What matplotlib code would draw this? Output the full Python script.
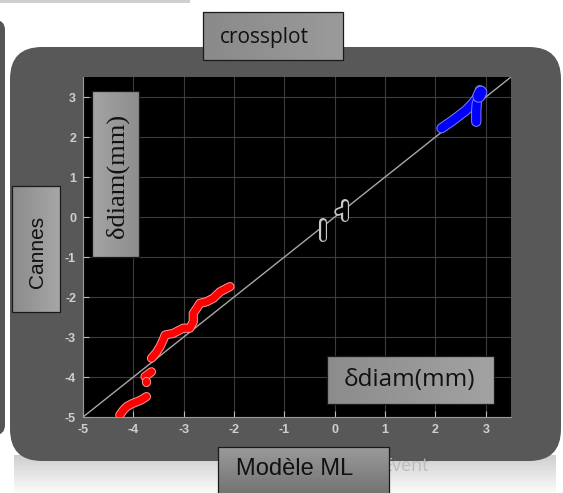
import numpy as np
import matplotlib
matplotlib.use("Agg")
import matplotlib.pyplot as plt
from matplotlib.patches import FancyBboxPatch, Rectangle
import matplotlib.patheffects as pe

# ---- data ----
xticks = [-5, -4, -3, -2, -1, 0, 1, 2, 3]
yticks = [-5, -4, -3, -2, -1, 0, 1, 2, 3]
red1_x = [-4.27, -4.20, -4.13, -4.03, -3.93, -3.84, -3.74]
red1_y = [-4.95, -4.83, -4.74, -4.67, -4.62, -4.57, -4.49]
red2_x = [-3.77, -3.64]
red2_y = [-3.99, -3.87]
red3_x = [-3.75, -3.75]
red3_y = [-4.12, -4.11]
red4_x = [-3.64, -3.55, -3.47, -3.40, -3.37, -3.21, -3.01, -2.88, -2.81, -2.81, -2.74, -2.68, -2.55, -2.41, -2.28, -2.08]
red4_y = [-3.53, -3.40, -3.24, -3.05, -2.95, -2.91, -2.78, -2.78, -2.62, -2.41, -2.28, -2.16, -2.12, -2.03, -1.87, -1.74]
blue1_x = [2.12, 2.35, 2.61, 2.74, 2.84, 2.88, 2.88]
blue1_y = [2.22, 2.42, 2.67, 2.84, 3.01, 3.10, 3.17]
blue2_x = [2.82, 2.81, 2.81]
blue2_y = [2.84, 2.67, 2.38]
blue3_x = [2.86, 2.90]
blue3_y = [3.02, 3.12]
gray1_x = [-0.23, -0.23]
gray1_y = [-0.12, -0.53]
gray2_x = [0.20, 0.20]
gray2_y = [0.34, -0.03]
gray3_x = [0.07, 0.17]
gray3_y = [0.13, 0.18]

W, H = 563, 493
fig = plt.figure(figsize=(W / 100, H / 100), dpi=100)
fig.patch.set_facecolor("white")

# background layer in pixel coordinates
bg = fig.add_axes([0, 0, 1, 1], zorder=0)
bg.set_xlim(0, W)
bg.set_ylim(H, 0)
bg.axis("off")

# reflection below the panel
grad = np.linspace(0, 1, 50).reshape(-1, 1)
bg.imshow(grad, extent=[14, 556, 493, 455], cmap=matplotlib.colors.LinearSegmentedColormap.from_list(
    "r", ["#cfcfcf", "#fbfbfb"]), aspect="auto", zorder=0, interpolation="bilinear")
# left neighbour panel strip
bg.add_patch(FancyBboxPatch((-40, 20), 45, 415, boxstyle="round,pad=0,rounding_size=10",
                            fc="#555555", ec="none", zorder=1))
bg.add_patch(Rectangle((0, 0), 190, 3, fc="#cfcfcf", ec="none", zorder=1))
# main dark panel
bg.add_patch(FancyBboxPatch((10, 47), 551, 414, boxstyle="round,pad=0,rounding_size=32",
                            fc="#585858", ec="none", zorder=1))

# ---- plot axes ----
ax = fig.add_axes([83 / W, (H - 417) / H, (511 - 83) / W, (417 - 77) / H], zorder=2)
ax.set_facecolor("black")
ax.set_xlim(-5, 3.5)
ax.set_ylim(-5, 3.5)
ax.set_xticks(xticks)
ax.set_yticks(yticks)
ax.set_xticklabels([str(t) for t in xticks])
ax.set_yticklabels([str(t) for t in yticks])
ax.grid(True, color="#3c3c3c", lw=0.8)
ax.set_axisbelow(True)
ax.tick_params(direction="in", length=4, color="#bdbdbd", width=0.8, labelcolor="#cfcfcf",
               labelsize=9, pad=5)
for lab in ax.get_xticklabels() + ax.get_yticklabels():
    lab.set_fontfamily("Liberation Sans")
    lab.set_fontweight("bold")
for s in ["top", "right"]:
    ax.spines[s].set_visible(False)
for s in ["left", "bottom"]:
    ax.spines[s].set_color("#9a9a9a")
    ax.spines[s].set_linewidth(0.8)

ax.plot([-5, 3.5], [-5, 3.5], color="#a8a8a8", lw=1.0, zorder=3)


def thick(x, y, col, edge, lw):
    ax.plot(x, y, color=col, lw=lw, solid_capstyle="round", solid_joinstyle="round",
            zorder=4,
            path_effects=[pe.Stroke(linewidth=lw + 1.4, foreground=edge), pe.Normal()])


thick(red1_x, red1_y, "#ff0000", "#ff9a9a", 5.2)
thick(red2_x, red2_y, "#ff0000", "#ff9a9a", 5.2)
thick(red3_x, red3_y, "#ff0000", "#ff9a9a", 5.2)
thick(red4_x, red4_y, "#ff0000", "#ff9a9a", 5.2)
thick(blue1_x, blue1_y, "#0000ff", "#7f7fff", 6.0)
thick(blue2_x, blue2_y, "#0000ff", "#7f7fff", 6.0)
thick(blue3_x, blue3_y, "#0000ff", "#7f7fff", 8.0)

for gx, gy in [(gray1_x, gray1_y), (gray2_x, gray2_y), (gray3_x, gray3_y)]:
    ax.plot(gx, gy, color="#c8c8c8", lw=5.8, solid_capstyle="round", zorder=4)
for gx, gy in [(gray1_x, gray1_y), (gray2_x, gray2_y), (gray3_x, gray3_y)]:
    ax.plot(gx, gy, color="black", lw=3.4, solid_capstyle="round", zorder=5)

# ---- overlay labels ----
ov = fig.add_axes([0, 0, 1, 1], zorder=5)
ov.set_xlim(0, W)
ov.set_ylim(H, 0)
ov.axis("off")
ov.patch.set_alpha(0)

ov.text(382, 466, "Event", color="#bdbdbd", fontsize=13, family="Open Sans",
        va="center", ha="left", zorder=1)


def gbox(x0, y0, x1, y1, horizontal=True, c0="#7e7e7e", c1="#a2a2a2"):
    g = np.linspace(0, 1, 64)
    img = g.reshape(1, -1) if horizontal else g.reshape(-1, 1)
    cm = matplotlib.colors.LinearSegmentedColormap.from_list("g", [c0, c1])
    ov.imshow(img, extent=[x0, x1, y1, y0], cmap=cm, aspect="auto", zorder=2,
              interpolation="bilinear")
    ov.add_patch(Rectangle((x0, y0), x1 - x0, y1 - y0, fc="none", ec="#1a1a1a",
                           lw=0.9, zorder=3))


gbox(203, 12, 343, 60, True, "#8a8a8a", "#9a9a9a")
ov.text(264, 37, "crossplot", fontsize=15, family="Open Sans", color="#111111",
        ha="center", va="center", zorder=4)

gbox(12, 186, 60, 312, True, "#8c8c8c", "#a6a6a6")
ov.text(37, 252, "Cannes", fontsize=15, family="Liberation Sans", color="#111111",
        ha="center", va="center", rotation=90, zorder=4)

gbox(92, 91, 139, 257, True, "#a4a4a4", "#8e8e8e")
ov.text(117, 176, "δdiam(mm)", fontsize=19, family="Liberation Serif", color="#111111",
        ha="center", va="center", rotation=90, zorder=4)

gbox(327, 356, 494, 404, True, "#8c8c8c", "#a2a2a2")
ov.text(409, 380, "δdiam(mm)", fontsize=17.5, family="Open Sans", color="#111111",
        ha="center", va="center", zorder=4)

gbox(218, 447, 389, 500, False, "#9a9a9a", "#6e6e6e")
ov.text(295, 469, "Modèle ML", fontsize=17, family="Liberation Sans", color="#111111",
        ha="center", va="center", zorder=4)

fig.savefig("out.png", dpi=100, facecolor="white")
